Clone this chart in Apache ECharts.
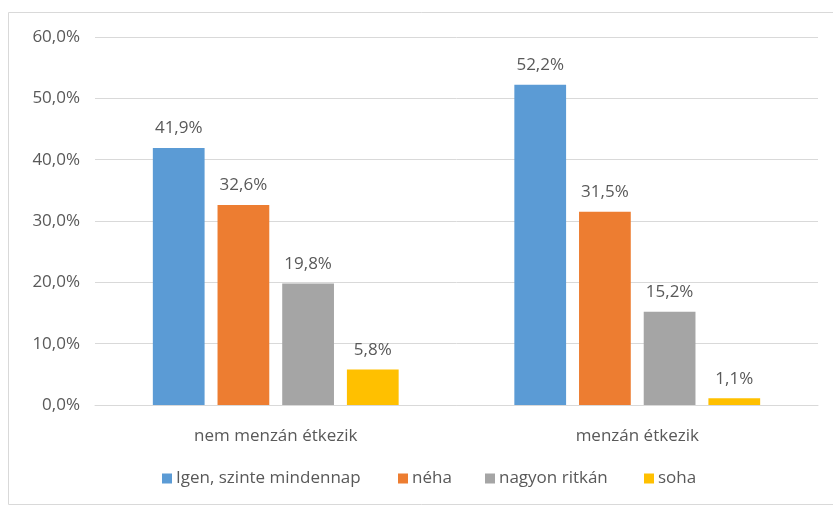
<!DOCTYPE html>
<html><head><meta charset="utf-8">
<script src="https://cdn.jsdelivr.net/npm/echarts@6/dist/echarts.min.js"></script>
<style>html,body{margin:0;padding:0;background:#fff}#c{width:833px;height:507px}</style>
</head><body><div id="c"></div>
<script>
var categories = ['nem menzán étkezik', 'menzán étkezik'];
var seriesNames = ['Igen, szinte mindennap', 'néha', 'nagyon ritkán', 'soha'];
var igen = [41.9, 52.2];
var neha = [32.6, 31.5];
var ritkan = [19.8, 15.2];
var soha = [5.8, 1.1];
var colors = ['#5B9BD5', '#ED7D31', '#A5A5A5', '#FFC000'];
var values = [igen, neha, ritkan, soha];
var legendLeft = [162, 398, 485, 644];
var font = '"Open Sans", sans-serif';
function fmt(v){ return v.toFixed(1).replace('.', ','); }
var chart = echarts.init(document.getElementById('c'), null, {renderer:'canvas'});
chart.setOption({
  animation: false,
  textStyle: {fontFamily: font},
  graphic: [{type:'rect', shape:{x:8.5, y:12.5, width:840, height:492}, style:{fill:'none', stroke:'#d9d9d9', lineWidth:1}, silent:true}],
  grid: {left: 95, right: 15, top: 37, bottom: 102},
  legend: seriesNames.map(function(n, i){
    return {
      data: [n], top: 470, left: legendLeft[i], padding: 0, itemWidth: 10, itemHeight: 10, itemGap: 0,
      icon: 'rect', textStyle: {color:'#595959', fontSize: 17, fontFamily: font, padding: [0,0,0,-1]}
    };
  }),
  xAxis: {
    type: 'category', data: categories,
    axisLine: {lineStyle: {color:'#d9d9d9'}}, axisTick: {show:false},
    axisLabel: {color:'#595959', fontSize: 17, margin: 23, fontFamily: font}
  },
  yAxis: {
    type: 'value', min: 0, max: 60, interval: 10,
    axisLabel: {formatter: function(v){ return fmt(v) + '%'; }, color:'#595959', fontSize: 17, margin: 15, fontFamily: font},
    splitLine: {lineStyle: {color:'#d9d9d9'}}, axisLine:{show:false}, axisTick:{show:false}
  },
  series: seriesNames.map(function(n, i){
    return {
      name: n, type: 'bar', data: values[i], barGap: '25%', barCategoryGap: '32%',
      itemStyle: {color: colors[i]},
      label: {show: true, position: 'top', distance: 11, color:'#595959', fontSize: 17, fontFamily: font,
        formatter: function(p){ return fmt(p.value) + '%'; }}
    };
  })
});
</script></body></html>
